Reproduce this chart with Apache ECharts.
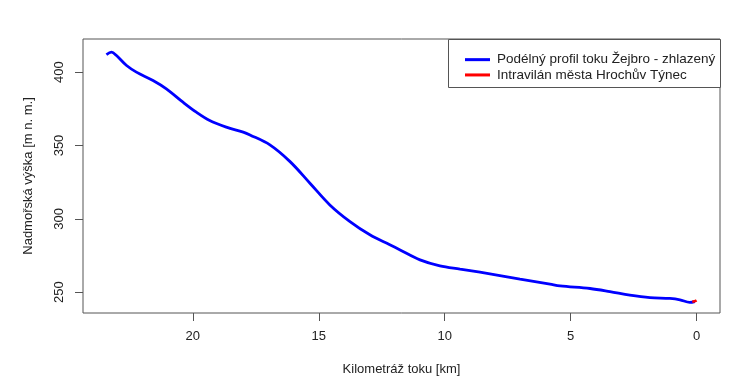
<!DOCTYPE html>
<html>
<head>
<meta charset="utf-8">
<script src="https://cdn.jsdelivr.net/npm/echarts@6/dist/echarts.min.js"></script>
<style>html,body{margin:0;padding:0;background:#fff;}#c{width:736px;height:387px;}</style>
</head>
<body>
<div id="c"></div>
<script>
// Data (km, elevation m n. m.)
const profileKm = [23.43,23.23,23.03,22.63,22.24,21.58,21.05,20.39,19.86,19.33,18.67,18.00,17.73,16.94,16.14,15.35,14.56,13.76,12.97,12.18,11.77,10.98,10.19,9.39,8.60,7.81,7.01,5.82,5.42,4.23,3.44,2.65,1.85,1.06,0.66,0.27,0.07];
const profileElev = [412.0,413.6,411.3,404.5,400.0,394.3,388.6,379.5,372.7,367.0,362.5,359.1,357.2,350.4,339.0,324.3,309.5,298.1,289.1,282.3,278.8,272.0,267.9,265.7,263.6,261.3,258.9,255.5,254.3,252.5,250.4,248.0,246.3,245.7,244.8,243.0,243.6];
const townKm = [0.17,0.08,0.0];
const townElev = [243.5,243.8,244.4];
const xTicks = [0,5,10,15,20];
const yTicks = [250,300,350,400];
const seriesNames = ['Podélný profil toku Žejbro - zhlazený','Intravilán města Hrochův Týnec'];

const zip = (a,b) => a.map((v,i)=>[v,b[i]]);
const font = 'Liberation Sans, Arial, Helvetica, sans-serif';
const chart = echarts.init(document.getElementById('c'), null, {renderer:'canvas'});
chart.setOption({
  animation:false,
  backgroundColor:'#fff',
  grid:{left:83,right:16,top:39,bottom:74,show:true,borderColor:'#555',borderWidth:1,backgroundColor:'transparent'},
  xAxis:{
    type:'value', inverse:true, min:-0.93, max:24.36,
    name:'Kilometráž toku [km]', nameLocation:'middle', nameGap:50,
    nameTextStyle:{fontFamily:font,fontSize:13,color:'#222'},
    axisLine:{show:false,onZero:false},
    axisTick:{show:true,length:8,lineStyle:{color:'#555'},customValues:xTicks},
    axisLabel:{fontFamily:font,fontSize:13,color:'#222',margin:17,customValues:xTicks},
    splitLine:{show:false}
  },
  yAxis:{
    type:'value', min:235.8, max:422.6,
    name:'Nadmořská výška [m n. m.]', nameLocation:'middle', nameGap:48,
    nameTextStyle:{fontFamily:font,fontSize:13,color:'#222'},
    axisLine:{show:false,onZero:false},
    axisTick:{show:true,length:8,lineStyle:{color:'#555'},customValues:yTicks},
    axisLabel:{fontFamily:font,fontSize:13,color:'#222',margin:17,rotate:90,customValues:yTicks},
    splitLine:{show:false}
  },
  graphic:[{type:'rect',left:448,top:39,shape:{width:272,height:48},style:{fill:'#fff',stroke:'#555',lineWidth:1},z:5}],
  legend:{
    orient:'vertical', left:460, top:47, icon:'rect', itemWidth:25, itemHeight:3, itemGap:0,
    textStyle:{fontFamily:font,fontSize:13.5,color:'#222',lineHeight:15.3,padding:[0,0,0,2]},
    data:seriesNames, z:10
  },
  series:[
    {name:seriesNames[0],type:'line',data:zip(profileKm,profileElev),smooth:0.35,showSymbol:false,lineStyle:{color:'#0000ff',width:2.8},itemStyle:{color:'#0000ff'}},
    {name:seriesNames[1],type:'line',data:zip(townKm,townElev),smooth:true,showSymbol:false,lineStyle:{color:'#ff0000',width:2.8},itemStyle:{color:'#ff0000'}}
  ]
});
</script>
</body>
</html>
